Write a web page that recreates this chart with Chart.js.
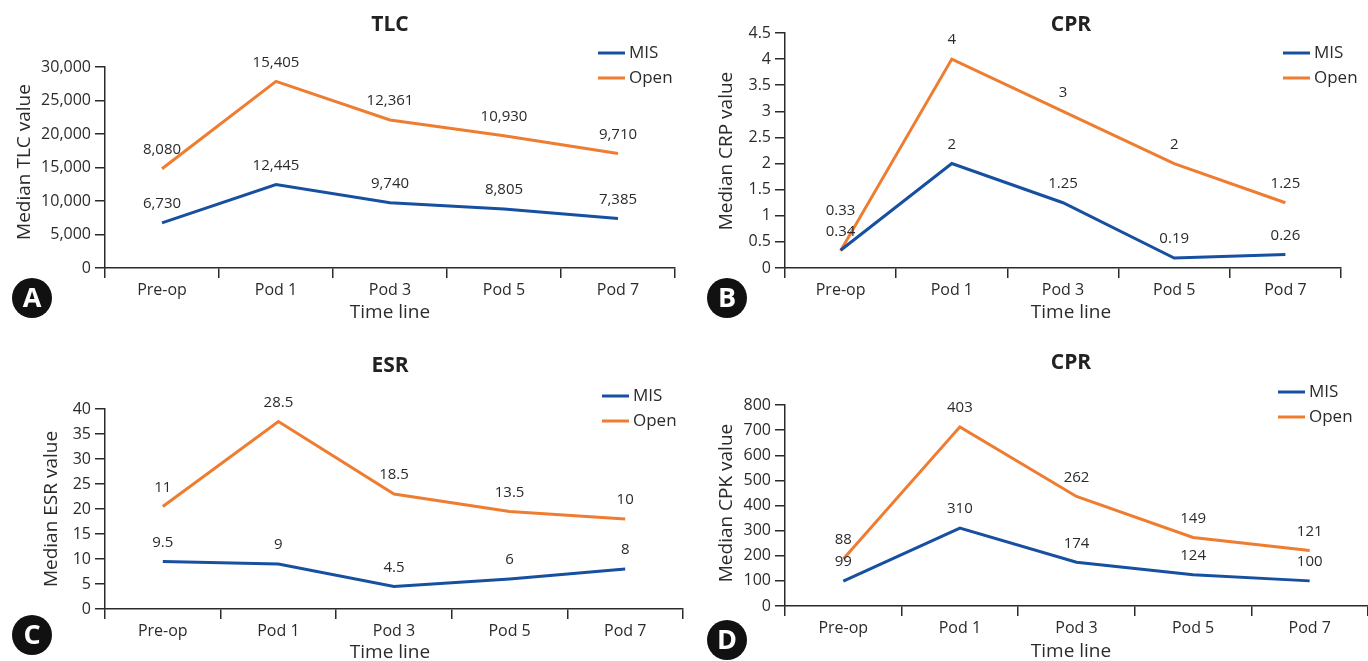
<!DOCTYPE html>
<html>
<head>
<meta charset="utf-8">
<script src="https://cdn.jsdelivr.net/npm/chart.js@4.4.1/dist/chart.umd.min.js"></script>
<style>
  html, body { margin: 0; padding: 0; background: #ffffff; overflow: hidden; }
  #wrap { position: relative; width: 1368px; height: 661px; }
  .panel { position: absolute; }
</style>
</head>
<body>
<div id="wrap">
  <div class="panel" style="left:0px;top:0px;width:684px;height:330px;"><canvas id="cA"></canvas></div>
  <div class="panel" style="left:684px;top:0px;width:684px;height:330px;"><canvas id="cB"></canvas></div>
  <div class="panel" style="left:0px;top:330px;width:684px;height:331px;"><canvas id="cC"></canvas></div>
  <div class="panel" style="left:684px;top:330px;width:684px;height:331px;"><canvas id="cD"></canvas></div>
</div>
<script>
// ---------- data ----------
const categories = ['Pre-op', 'Pod 1', 'Pod 3', 'Pod 5', 'Pod 7'];
const seriesNames = ['MIS', 'Open'];

const tlcMIS  = [6730, 12445, 9740, 8805, 7385];
const tlcOpen = [8080, 15405, 12361, 10930, 9710];

const crpMIS  = [0.34, 2, 1.25, 0.19, 0.26];
const crpOpen = [0.33, 4, 3, 2, 1.25];

const esrMIS  = [9.5, 9, 4.5, 6, 8];
const esrOpen = [11, 28.5, 18.5, 13.5, 10];

const cpkMIS  = [99, 310, 174, 124, 100];
const cpkOpen = [88, 403, 262, 149, 121];

const panelTitles = ['TLC', 'CPR', 'ESR', 'CPR'];
const yTitles = ['Median TLC value', 'Median CRP value', 'Median ESR value', 'Median CPK value'];
const xTitle = 'Time line';
const badges = ['A', 'B', 'C', 'D'];
const yMax = [30000, 4.5, 40, 800];
const yStep = [5000, 0.5, 5, 100];

// ---------- styles ----------
const BLUE = '#1750a0';
const ORANGE = '#ee7d31';
const INK = '#2b2b2b';
const FONT = '"Open Sans", "Noto Sans", sans-serif';

function fmt(v) { return Number(v).toLocaleString('en-US'); }

// layout per panel (panel-local px)
const layouts = [
  { W: 684, H: 330, area: { l: 105, t: 67, r: 675, b: 268 }, title: [390, 25], xt: [390, 313], yt: [25, 162], leg: [598, 53], badge: [32, 298] },
  { W: 684, H: 330, area: { l: 101, t: 33, r: 657, b: 268 }, title: [387, 25], xt: [387, 313], yt: [43, 151], leg: [599, 53], badge: [43, 298] },
  { W: 684, H: 331, area: { l: 105, t: 79, r: 683, b: 279 }, title: [390, 36], xt: [390, 323], yt: [52, 179], leg: [602, 66], badge: [32, 305] },
  { W: 684, H: 331, area: { l: 101, t: 75, r: 684, b: 276 }, title: [387, 33], xt: [387, 322], yt: [43, 173], leg: [594, 62], badge: [43, 310] }
];

const decorPlugin = {
  id: 'decor',
  afterDatasetsDraw(chart, args, o) {
    const ctx = chart.ctx;
    const L = o.layout;
    ctx.save();
    // data labels
    const m0 = chart.getDatasetMeta(0), m1 = chart.getDatasetMeta(1);
    const d0 = chart.data.datasets[0].data, d1 = chart.data.datasets[1].data;
    ctx.font = '15px ' + FONT;
    ctx.fillStyle = INK;
    ctx.textAlign = 'center';
    ctx.textBaseline = 'middle';
    for (let i = 0; i < d0.length; i++) {
      const p0 = m0.data[i], p1 = m1.data[i];
      const y0 = p0.y - 19;
      let y1 = p1.y - 19;
      if (y1 > y0 - 21) y1 = y0 - 21;
      ctx.fillText(fmt(d0[i]), p0.x, y0);
      ctx.fillText(fmt(d1[i]), p1.x, y1);
    }
    // title
    ctx.font = 'bold 21px ' + FONT;
    ctx.fillStyle = '#222';
    ctx.fillText(o.title, L.title[0], L.title[1]);
    // x title
    ctx.font = '19px ' + FONT;
    ctx.fillStyle = INK;
    ctx.fillText(xTitle, L.xt[0], L.xt[1]);
    // y title
    ctx.save();
    ctx.translate(L.yt[0], L.yt[1]);
    ctx.rotate(-Math.PI / 2);
    ctx.font = '19px ' + FONT;
    ctx.fillText(o.ytitle, 0, 0);
    ctx.restore();
    // legend
    const cols = [BLUE, ORANGE];
    ctx.textAlign = 'left';
    ctx.font = '17px ' + FONT;
    for (let k = 0; k < 2; k++) {
      const ly = L.leg[1] + k * 25;
      ctx.strokeStyle = cols[k];
      ctx.lineWidth = 3;
      ctx.beginPath();
      ctx.moveTo(L.leg[0], ly);
      ctx.lineTo(L.leg[0] + 27, ly);
      ctx.stroke();
      ctx.fillStyle = INK;
      ctx.fillText(seriesNames[k], L.leg[0] + 31, ly);
    }
    // badge
    ctx.beginPath();
    ctx.arc(L.badge[0], L.badge[1], 20, 0, Math.PI * 2);
    ctx.fillStyle = '#111';
    ctx.fill();
    ctx.font = 'bold 27px ' + FONT;
    ctx.textAlign = 'center';
    ctx.fillStyle = '#fff';
    ctx.fillText(o.badge, L.badge[0], L.badge[1] + 1);
    ctx.restore();
  }
};

function makePanel(id, idx, mis, open, stacked) {
  const L = layouts[idx];
  const cv = document.getElementById(id);
  cv.width = L.W; cv.height = L.H;
  cv.style.width = L.W + 'px'; cv.style.height = L.H + 'px';
  return new Chart(cv, {
    type: 'line',
    data: {
      labels: categories,
      datasets: [
        { label: seriesNames[0], data: mis, borderColor: BLUE, backgroundColor: BLUE, borderWidth: 3, pointRadius: 0, tension: 0, fill: false },
        { label: seriesNames[1], data: open, borderColor: ORANGE, backgroundColor: ORANGE, borderWidth: 3, pointRadius: 0, tension: 0, fill: false }
      ]
    },
    options: {
      responsive: false,
      animation: false,
      layout: { padding: { left: 0, top: L.area.t, right: L.W - L.area.r, bottom: 0 } },
      plugins: {
        legend: { display: false },
        title: { display: false },
        tooltip: { enabled: false },
        decor: { layout: L, title: panelTitles[idx], ytitle: yTitles[idx], badge: badges[idx] }
      },
      scales: {
        x: {
          offset: true,
          grid: { offset: true, drawOnChartArea: false, tickLength: 10, color: INK, lineWidth: 1.5 },
          border: { display: true, color: INK, width: 1.5 },
          ticks: { color: INK, font: { family: FONT, size: 16 }, padding: 3, maxRotation: 0 },
          afterFit(s) { s.height = L.H - L.area.b; }
        },
        y: {
          stacked: stacked,
          min: 0, max: yMax[idx],
          grid: { drawOnChartArea: false, tickLength: 10, color: INK, lineWidth: 1.5 },
          border: { display: true, color: INK, width: 1.5 },
          ticks: { stepSize: yStep[idx], color: INK, font: { family: FONT, size: 16 }, padding: 4, callback: v => fmt(v) },
          afterFit(s) { s.width = L.area.l; }
        }
      }
    },
    plugins: [decorPlugin]
  });
}

makePanel('cA', 0, tlcMIS, tlcOpen, true);
makePanel('cB', 1, crpMIS, crpOpen, false);
makePanel('cC', 2, esrMIS, esrOpen, true);
makePanel('cD', 3, cpkMIS, cpkOpen, true);
</script>
</body>
</html>
